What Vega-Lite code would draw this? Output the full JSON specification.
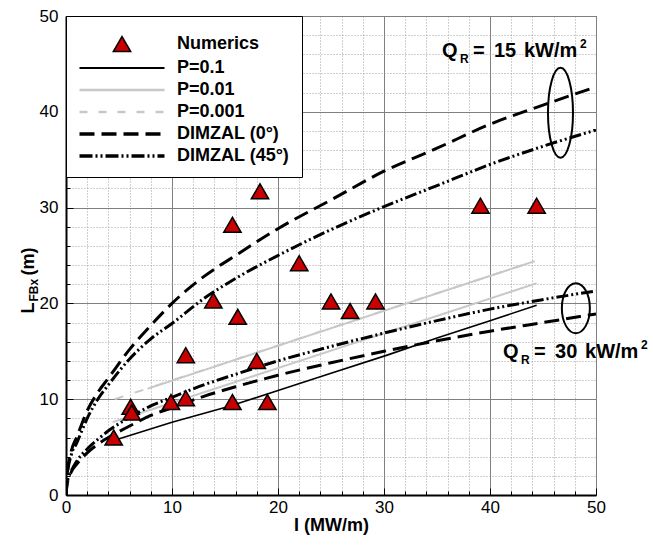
{
  "$schema": "https://vega.github.io/schema/vega-lite/v6.json",
  "width": 530,
  "height": 479,
  "autosize": {"type": "none"},
  "padding": {"left": 66, "top": 16, "right": 57, "bottom": 50},
  "background": "white",
  "config": {
    "font": "Liberation Sans",
    "view": {"stroke": "black", "strokeWidth": 1}
  },
  "datasets": {
    "lines": [
      {"series": "P=0.1", "curve": "p1", "I": 4.5, "L": 5.7},
      {"series": "P=0.1", "curve": "p1", "I": 10, "L": 7.6},
      {"series": "P=0.1", "curve": "p1", "I": 15.5, "L": 9.3},
      {"series": "P=0.1", "curve": "p1", "I": 20, "L": 10.9},
      {"series": "P=0.1", "curve": "p1", "I": 25, "L": 12.7},
      {"series": "P=0.1", "curve": "p1", "I": 30.3, "L": 14.6},
      {"series": "P=0.1", "curve": "p1", "I": 35, "L": 16.4},
      {"series": "P=0.1", "curve": "p1", "I": 40, "L": 18.2},
      {"series": "P=0.1", "curve": "p1", "I": 44.4, "L": 19.8},
      {"series": "P=0.01", "curve": "p01a", "I": 4.4, "L": 7.6},
      {"series": "P=0.01", "curve": "p01a", "I": 44.4, "L": 22.1},
      {"series": "P=0.01", "curve": "p01b", "I": 7.7, "L": 11.1},
      {"series": "P=0.01", "curve": "p01b", "I": 44.2, "L": 24.4},
      {"series": "P=0.001", "curve": "p001", "I": 4.6, "L": 10.0},
      {"series": "P=0.001", "curve": "p001", "I": 44.2, "L": 24.4},
      {"series": "DIMZAL (0°)", "curve": "d0_15", "I": 0, "L": 0},
      {"series": "DIMZAL (0°)", "curve": "d0_15", "I": 0.1, "L": 2.0},
      {"series": "DIMZAL (0°)", "curve": "d0_15", "I": 0.5, "L": 4.6},
      {"series": "DIMZAL (0°)", "curve": "d0_15", "I": 1, "L": 6.0},
      {"series": "DIMZAL (0°)", "curve": "d0_15", "I": 2, "L": 8.8},
      {"series": "DIMZAL (0°)", "curve": "d0_15", "I": 3, "L": 10.7},
      {"series": "DIMZAL (0°)", "curve": "d0_15", "I": 4, "L": 12.2},
      {"series": "DIMZAL (0°)", "curve": "d0_15", "I": 6, "L": 15.2},
      {"series": "DIMZAL (0°)", "curve": "d0_15", "I": 8, "L": 17.7},
      {"series": "DIMZAL (0°)", "curve": "d0_15", "I": 10, "L": 20.0},
      {"series": "DIMZAL (0°)", "curve": "d0_15", "I": 13, "L": 22.8},
      {"series": "DIMZAL (0°)", "curve": "d0_15", "I": 16, "L": 25.0},
      {"series": "DIMZAL (0°)", "curve": "d0_15", "I": 20, "L": 27.8},
      {"series": "DIMZAL (0°)", "curve": "d0_15", "I": 25, "L": 30.8},
      {"series": "DIMZAL (0°)", "curve": "d0_15", "I": 30, "L": 33.8},
      {"series": "DIMZAL (0°)", "curve": "d0_15", "I": 35, "L": 36.2},
      {"series": "DIMZAL (0°)", "curve": "d0_15", "I": 40, "L": 38.7},
      {"series": "DIMZAL (0°)", "curve": "d0_15", "I": 45, "L": 40.7},
      {"series": "DIMZAL (0°)", "curve": "d0_15", "I": 50, "L": 42.6},
      {"series": "DIMZAL (45°)", "curve": "d45_15", "I": 0, "L": 0},
      {"series": "DIMZAL (45°)", "curve": "d45_15", "I": 0.1, "L": 1.9},
      {"series": "DIMZAL (45°)", "curve": "d45_15", "I": 0.5, "L": 4.2},
      {"series": "DIMZAL (45°)", "curve": "d45_15", "I": 1, "L": 5.4},
      {"series": "DIMZAL (45°)", "curve": "d45_15", "I": 2, "L": 8.0},
      {"series": "DIMZAL (45°)", "curve": "d45_15", "I": 3, "L": 10.0},
      {"series": "DIMZAL (45°)", "curve": "d45_15", "I": 4, "L": 11.5},
      {"series": "DIMZAL (45°)", "curve": "d45_15", "I": 6, "L": 14.2},
      {"series": "DIMZAL (45°)", "curve": "d45_15", "I": 8, "L": 16.3},
      {"series": "DIMZAL (45°)", "curve": "d45_15", "I": 10, "L": 17.9},
      {"series": "DIMZAL (45°)", "curve": "d45_15", "I": 13, "L": 20.5},
      {"series": "DIMZAL (45°)", "curve": "d45_15", "I": 16, "L": 22.6},
      {"series": "DIMZAL (45°)", "curve": "d45_15", "I": 20, "L": 25.0},
      {"series": "DIMZAL (45°)", "curve": "d45_15", "I": 25, "L": 27.7},
      {"series": "DIMZAL (45°)", "curve": "d45_15", "I": 30, "L": 30.1},
      {"series": "DIMZAL (45°)", "curve": "d45_15", "I": 35, "L": 32.3},
      {"series": "DIMZAL (45°)", "curve": "d45_15", "I": 40, "L": 34.5},
      {"series": "DIMZAL (45°)", "curve": "d45_15", "I": 45, "L": 36.4},
      {"series": "DIMZAL (45°)", "curve": "d45_15", "I": 50, "L": 38.1},
      {"series": "DIMZAL (0°)", "curve": "d0_30", "I": 0, "L": 0},
      {"series": "DIMZAL (0°)", "curve": "d0_30", "I": 0.1, "L": 1.1},
      {"series": "DIMZAL (0°)", "curve": "d0_30", "I": 0.5, "L": 2.4},
      {"series": "DIMZAL (0°)", "curve": "d0_30", "I": 1, "L": 3.2},
      {"series": "DIMZAL (0°)", "curve": "d0_30", "I": 2, "L": 4.4},
      {"series": "DIMZAL (0°)", "curve": "d0_30", "I": 3, "L": 5.3},
      {"series": "DIMZAL (0°)", "curve": "d0_30", "I": 4, "L": 6.0},
      {"series": "DIMZAL (0°)", "curve": "d0_30", "I": 6, "L": 7.2},
      {"series": "DIMZAL (0°)", "curve": "d0_30", "I": 8, "L": 8.3},
      {"series": "DIMZAL (0°)", "curve": "d0_30", "I": 10, "L": 9.1},
      {"series": "DIMZAL (0°)", "curve": "d0_30", "I": 13, "L": 10.3},
      {"series": "DIMZAL (0°)", "curve": "d0_30", "I": 16, "L": 11.3},
      {"series": "DIMZAL (0°)", "curve": "d0_30", "I": 20, "L": 12.5},
      {"series": "DIMZAL (0°)", "curve": "d0_30", "I": 25, "L": 13.8},
      {"series": "DIMZAL (0°)", "curve": "d0_30", "I": 30, "L": 15.0},
      {"series": "DIMZAL (0°)", "curve": "d0_30", "I": 35, "L": 16.1},
      {"series": "DIMZAL (0°)", "curve": "d0_30", "I": 40, "L": 17.1},
      {"series": "DIMZAL (0°)", "curve": "d0_30", "I": 45, "L": 18.0},
      {"series": "DIMZAL (0°)", "curve": "d0_30", "I": 50, "L": 18.9},
      {"series": "DIMZAL (45°)", "curve": "d45_30", "I": 0, "L": 0},
      {"series": "DIMZAL (45°)", "curve": "d45_30", "I": 0.1, "L": 1.2},
      {"series": "DIMZAL (45°)", "curve": "d45_30", "I": 0.5, "L": 2.5},
      {"series": "DIMZAL (45°)", "curve": "d45_30", "I": 1, "L": 3.5},
      {"series": "DIMZAL (45°)", "curve": "d45_30", "I": 2, "L": 4.8},
      {"series": "DIMZAL (45°)", "curve": "d45_30", "I": 3, "L": 5.8},
      {"series": "DIMZAL (45°)", "curve": "d45_30", "I": 4, "L": 6.7},
      {"series": "DIMZAL (45°)", "curve": "d45_30", "I": 6, "L": 8.1},
      {"series": "DIMZAL (45°)", "curve": "d45_30", "I": 8, "L": 9.3},
      {"series": "DIMZAL (45°)", "curve": "d45_30", "I": 10, "L": 10.2},
      {"series": "DIMZAL (45°)", "curve": "d45_30", "I": 13, "L": 11.5},
      {"series": "DIMZAL (45°)", "curve": "d45_30", "I": 16, "L": 12.6},
      {"series": "DIMZAL (45°)", "curve": "d45_30", "I": 20, "L": 14.0},
      {"series": "DIMZAL (45°)", "curve": "d45_30", "I": 25, "L": 15.5},
      {"series": "DIMZAL (45°)", "curve": "d45_30", "I": 30, "L": 16.9},
      {"series": "DIMZAL (45°)", "curve": "d45_30", "I": 35, "L": 18.2},
      {"series": "DIMZAL (45°)", "curve": "d45_30", "I": 40, "L": 19.4},
      {"series": "DIMZAL (45°)", "curve": "d45_30", "I": 45, "L": 20.4},
      {"series": "DIMZAL (45°)", "curve": "d45_30", "I": 50, "L": 21.3}
    ],
    "points": [
      {"I": 4.5, "L": 6.0}, {"I": 6.1, "L": 9.2}, {"I": 6.2, "L": 8.6},
      {"I": 9.9, "L": 9.7}, {"I": 11.3, "L": 10.1}, {"I": 11.3, "L": 14.6},
      {"I": 13.9, "L": 20.3}, {"I": 15.7, "L": 28.2}, {"I": 15.7, "L": 9.7},
      {"I": 16.2, "L": 18.6}, {"I": 18.0, "L": 14.0}, {"I": 18.3, "L": 31.7},
      {"I": 19.0, "L": 9.7}, {"I": 22.0, "L": 24.2}, {"I": 25.0, "L": 20.2},
      {"I": 26.8, "L": 19.2}, {"I": 29.2, "L": 20.2}, {"I": 39.1, "L": 30.2},
      {"I": 44.4, "L": 30.2}
    ],
    "e15": [{"I": 46.65, "L": 39.9}],
    "e30": [{"I": 48.1, "L": 19.5}],
    "annot": [
      {"I": 35.47, "L": 45.72, "q": "15"},
      {"I": 41.23, "L": 14.3, "q": "30"}
    ]
  },
  "resolve": {"axis": {"x": "independent", "y": "independent"}},
  "layer": [
    {
      "data": {"name": "lines"},
      "transform": [{"filter": "datum.series === 'P=0.1'"}],
      "mark": {"type": "line", "strokeWidth": 1.6, "clip": true},
      "encoding": {
        "x": {
          "field": "I", "type": "quantitative",
          "scale": {"domain": [0, 50], "nice": false},
          "axis": {
            "orient": "bottom",
            "values": [0,2,4,6,8,10,12,14,16,18,20,22,24,26,28,30,32,34,36,38,40,42,44,46,48,50],
            "labelExpr": "datum.value % 10 === 0 ? datum.label : ''",
            "labelOverlap": false, "labelFlush": false, "labelBound": false,
            "labelFontSize": 17, "labelColor": "black", "labelPadding": 11,
            "grid": true,
            "gridColor": {"condition": {"test": "datum.value % 10 === 0", "value": "#808080"}, "value": "#a0a0a0"},
            "gridDash": {"condition": {"test": "datum.value % 10 === 0", "value": []}, "value": [1, 2]},
            "gridWidth": 1,
            "tickSize": {"condition": {"test": "datum.value % 10 === 0", "value": -7}, "value": -4},
            "tickColor": "black", "tickWidth": 1,
            "domainColor": "black", "domainWidth": 2,
            "title": "I (MW/m)", "titleFontSize": 18, "titleFontWeight": "bold", "titleColor": "black",
            "titleY": 35, "titleBaseline": "alphabetic"
          }
        },
        "y": {
          "field": "L", "type": "quantitative",
          "scale": {"domain": [0, 50], "nice": false},
          "axis": {
            "orient": "left",
            "values": [0,2,4,6,8,10,12,14,16,18,20,22,24,26,28,30,32,34,36,38,40,42,44,46,48,50],
            "labelExpr": "datum.value % 10 === 0 ? datum.label : ''",
            "labelOverlap": false, "labelFlush": false,
            "labelFontSize": 17, "labelColor": "black", "labelPadding": 15,
            "grid": true,
            "gridColor": {"condition": {"test": "datum.value % 10 === 0", "value": "#808080"}, "value": "#a0a0a0"},
            "gridDash": {"condition": {"test": "datum.value % 10 === 0", "value": []}, "value": [1, 2]},
            "gridWidth": 1,
            "tickSize": {"condition": {"test": "datum.value % 10 === 0", "value": -7}, "value": -4},
            "tickColor": "black", "tickWidth": 1,
            "domainColor": "black", "domainWidth": 2,
            "title": "L\u2002\u2002\u2002(m)", "titleFontSize": 18, "titleFontWeight": "bold", "titleColor": "black",
            "titleAngle": 270, "titleAlign": "left", "titleBaseline": "alphabetic",
            "titleX": -33, "titleY": 297
          }
        },
        "detail": {"field": "curve"},
        "color": {
          "field": "series", "type": "nominal",
          "scale": {
            "domain": ["Numerics", "P=0.1", "P=0.01", "P=0.001", "DIMZAL (0°)", "DIMZAL (45°)"],
            "range": ["black", "black", "#c8c8c8", "#c8c8c8", "black", "black"]
          },
          "legend": {
            "title": " ", "titleFontSize": 1, "titlePadding": 6,
            "orient": "top-left", "offset": 0,
            "padding": 12, "rowPadding": 4,
            "fillColor": "white", "strokeColor": "black",
            "labelFont": "Liberation Sans", "labelFontSize": 18, "labelFontWeight": "bold", "labelColor": "black",
            "labelLimit": 300,
            "labelExpr": "datum.label + '\u2002'",
            "symbolSize": 100, "symbolOffset": 35, "labelOffset": 46,
            "encode": {
              "symbols": {
                "update": {
                  "shape": {"signal": "datum.value === 'Numerics' ? 'triangle-up' : 'M-8.5,0L8.5,0'"},
                  "size": {"signal": "datum.value === 'Numerics' ? 300 : 100"},
                  "fill": {"signal": "datum.value === 'Numerics' ? '#c80000' : 'transparent'"},
                  "strokeWidth": {"signal": "datum.value === 'Numerics' ? 1.5 : datum.value === 'P=0.1' ? 2 : (datum.value === 'P=0.01' || datum.value === 'P=0.001') ? 2.5 : 3.5"},
                  "strokeDash": {"signal": "datum.value === 'P=0.001' ? [8,11] : datum.value === 'DIMZAL (0°)' ? [15,7] : datum.value === 'DIMZAL (45°)' ? [13,3,2,3,2,3] : [1,0]"},
                  "opacity": {"value": 1}
                }
              }
            }
          }
        }
      }
    },
    {
      "data": {"name": "lines"},
      "transform": [{"filter": "datum.series === 'P=0.01' || datum.series === 'P=0.001'"}],
      "mark": {"type": "line", "strokeWidth": 2, "clip": true},
      "encoding": {
        "x": {"field": "I", "type": "quantitative", "scale": {"domain": [0, 50], "nice": false}, "axis": null},
        "y": {"field": "L", "type": "quantitative", "scale": {"domain": [0, 50], "nice": false}, "axis": null},
        "detail": {"field": "curve"},
        "color": {"field": "series", "type": "nominal"},
        "strokeDash": {
          "field": "series", "type": "nominal", "legend": null,
          "scale": {"domain": ["P=0.01", "P=0.001", "DIMZAL (0°)", "DIMZAL (45°)"], "range": [[1, 0], [9, 12], [15, 7], [12, 3, 2, 3, 2, 3]]}
        }
      }
    },
    {
      "data": {"name": "lines"},
      "transform": [{"filter": "indexof(datum.series, 'DIMZAL') === 0"}],
      "mark": {"type": "line", "strokeWidth": 3, "interpolate": "monotone", "clip": true},
      "encoding": {
        "x": {"field": "I", "type": "quantitative", "scale": {"domain": [0, 50], "nice": false}, "axis": null},
        "y": {"field": "L", "type": "quantitative", "scale": {"domain": [0, 50], "nice": false}, "axis": null},
        "detail": {"field": "curve"},
        "color": {"field": "series", "type": "nominal"},
        "strokeDash": {
          "field": "series", "type": "nominal", "legend": null,
          "scale": {"domain": ["P=0.01", "P=0.001", "DIMZAL (0°)", "DIMZAL (45°)"], "range": [[1, 0], [9, 12], [15, 7], [12, 3, 2, 3, 2, 3]]}
        }
      }
    },
    {
      "data": {"name": "points"},
      "mark": {"type": "point", "shape": "triangle-up", "size": 300, "filled": true, "fill": "#c80000", "stroke": "black", "strokeWidth": 1.5, "opacity": 1},
      "encoding": {
        "x": {"field": "I", "type": "quantitative", "scale": {"domain": [0, 50], "nice": false}, "axis": null},
        "y": {
          "field": "L", "type": "quantitative", "scale": {"domain": [0, 50], "nice": false},
          "axis": {
            "orient": "right", "labels": false, "ticks": false, "domain": false, "grid": false,
            "title": "FBx", "titleFontSize": 12, "titleFontWeight": "bold", "titleColor": "black",
            "titleAngle": 270, "titleAlign": "left", "titleBaseline": "alphabetic",
            "titleX": -559, "titleY": 285
          }
        }
      }
    },
    {
      "data": {"name": "e15"},
      "mark": {"type": "point", "shape": "M0,-3.6C0.552,-3.6,1,-1.988,1,0C1,1.988,0.552,3.6,0,3.6C-0.552,3.6,-1,1.988,-1,0C-1,-1.988,-0.552,-3.6,0,-3.6Z", "size": 625, "filled": false, "stroke": "black", "strokeWidth": 2, "opacity": 1},
      "encoding": {
        "x": {"field": "I", "type": "quantitative", "scale": {"domain": [0, 50], "nice": false}, "axis": null},
        "y": {"field": "L", "type": "quantitative", "scale": {"domain": [0, 50], "nice": false}, "axis": null}
      }
    },
    {
      "data": {"name": "e30"},
      "mark": {"type": "point", "shape": "M0,-1.786C0.552,-1.786,1,-0.986,1,0C1,0.986,0.552,1.786,0,1.786C-0.552,1.786,-1,0.986,-1,0C-1,-0.986,-0.552,-1.786,0,-1.786Z", "size": 784, "filled": false, "stroke": "black", "strokeWidth": 2, "opacity": 1},
      "encoding": {
        "x": {"field": "I", "type": "quantitative", "scale": {"domain": [0, 50], "nice": false}, "axis": null},
        "y": {"field": "L", "type": "quantitative", "scale": {"domain": [0, 50], "nice": false}, "axis": null}
      }
    },
    {
      "data": {"name": "annot"},
      "mark": {"type": "text", "text": "Q", "align": "left", "baseline": "alphabetic", "fontSize": 20, "fontWeight": "bold", "color": "black"},
      "encoding": {
        "x": {"field": "I", "type": "quantitative", "scale": {"domain": [0, 50], "nice": false}, "axis": null},
        "y": {"field": "L", "type": "quantitative", "scale": {"domain": [0, 50], "nice": false}, "axis": null}
      }
    },
    {
      "data": {"name": "annot"},
      "mark": {"type": "text", "text": "R", "align": "left", "baseline": "alphabetic", "dx": 18, "dy": 6, "fontSize": 12, "fontWeight": "bold", "color": "black"},
      "encoding": {
        "x": {"field": "I", "type": "quantitative", "scale": {"domain": [0, 50], "nice": false}, "axis": null},
        "y": {"field": "L", "type": "quantitative", "scale": {"domain": [0, 50], "nice": false}, "axis": null}
      }
    },
    {
      "data": {"name": "annot"},
      "mark": {"type": "text", "text": "=", "align": "left", "baseline": "alphabetic", "dx": 31, "fontSize": 20, "fontWeight": "bold", "color": "black"},
      "encoding": {
        "x": {"field": "I", "type": "quantitative", "scale": {"domain": [0, 50], "nice": false}, "axis": null},
        "y": {"field": "L", "type": "quantitative", "scale": {"domain": [0, 50], "nice": false}, "axis": null}
      }
    },
    {
      "data": {"name": "annot"},
      "mark": {"type": "text", "align": "left", "baseline": "alphabetic", "dx": 52, "fontSize": 20, "fontWeight": "bold", "color": "black"},
      "encoding": {
        "x": {"field": "I", "type": "quantitative", "scale": {"domain": [0, 50], "nice": false}, "axis": null},
        "y": {"field": "L", "type": "quantitative", "scale": {"domain": [0, 50], "nice": false}, "axis": null},
        "text": {"field": "q"}
      }
    },
    {
      "data": {"name": "annot"},
      "mark": {"type": "text", "text": "kW/m", "align": "left", "baseline": "alphabetic", "dx": 82, "fontSize": 20, "fontWeight": "bold", "color": "black"},
      "encoding": {
        "x": {"field": "I", "type": "quantitative", "scale": {"domain": [0, 50], "nice": false}, "axis": null},
        "y": {"field": "L", "type": "quantitative", "scale": {"domain": [0, 50], "nice": false}, "axis": null}
      }
    },
    {
      "data": {"name": "annot"},
      "mark": {"type": "text", "text": "2", "align": "left", "baseline": "alphabetic", "dx": 138, "dy": -9, "fontSize": 12, "fontWeight": "bold", "color": "black"},
      "encoding": {
        "x": {"field": "I", "type": "quantitative", "scale": {"domain": [0, 50], "nice": false}, "axis": null},
        "y": {"field": "L", "type": "quantitative", "scale": {"domain": [0, 50], "nice": false}, "axis": null}
      }
    }
  ]
}
